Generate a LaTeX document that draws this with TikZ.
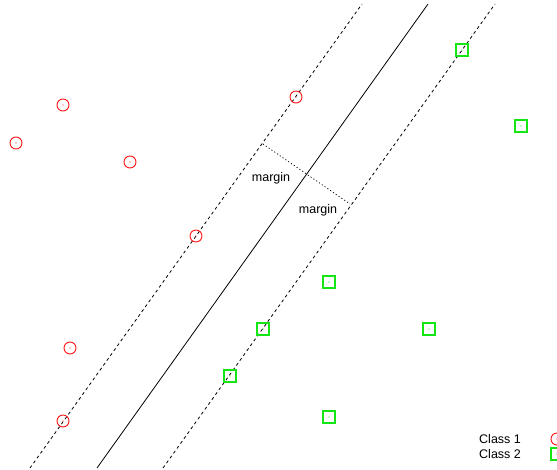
\documentclass[tikz,border=0pt]{standalone}
\usepackage{fontspec}
\setmainfont{Liberation Sans}
\usepackage{xcolor}
\usetikzlibrary{calc}
\definecolor{cone}{RGB}{255,20,20}
\definecolor{ctwo}{RGB}{20,230,20}
\tikzset{
  cls1/.style ={draw=cone, circle, minimum size=12pt, inner sep=0pt, line width=.9pt},
  cls2/.style ={draw=ctwo, minimum size=12pt, inner sep=0pt, line width=1.2pt},
  dotc/.style ={fill=#1, circle, inner sep=0pt, minimum size=1.4pt},
  hyp/.style  ={line width=.8pt},
  marg/.style ={line width=.8pt, dash pattern=on 3pt off 3pt},
  mline/.style={line width=.7pt, dash pattern=on 1.2pt off 2.2pt},
  lbl/.style  ={font=\fontsize{12.5}{14}\selectfont, inner sep=0pt},
}
\begin{document}
\begin{tikzpicture}[x=1pt,y=-1pt]
  \useasboundingbox (0,0) rectangle (557,469);
  % separating line and the two margins
  \coordinate (sb) at (97,468);  \coordinate (st) at (428,4);
  \coordinate (lb) at (30,468);  \coordinate (lt) at (362,4);
  \coordinate (rb) at (163,468); \coordinate (rt) at (495,4);
  \draw[hyp](sb)--(st);
  \draw[marg](lb)--(lt);
  \draw[marg](rb)--(rt);
  \coordinate (m1) at (263,144); \coordinate (m2) at (350,204);
  \draw[mline](m1)--(m2);
  \node[lbl](ma) at (271,178){margin};
  \node[lbl](mb) at (318,210){margin};
  % class 1
  \foreach \px/\py [count=\i] in {63/105,16/143,130/162,296/97,196/236,70/348,63/421}{
    \node[cls1](a\i) at (\px,\py){};
    \node[dotc=cone] at (a\i){};
  }
  % class 2
  \foreach \px/\py [count=\i] in {462/50,521/126,329/282,263/329,429/329,230/376,329/417}{
    \node[cls2](b\i) at (\px,\py){};
    \node[dotc=ctwo] at (b\i){};
  }
  % legend
  \node[lbl, anchor=west](k1) at (479,439){Class 1};
  \node[lbl, anchor=west](k2) at (479,454){Class 2};
  \node[cls1](k1m) at (557,439){};
  \node[dotc=cone] at (k1m){};
  \node[cls2](k2m) at (557,454){};
  \node[dotc=ctwo] at (k2m){};
\end{tikzpicture}
\end{document}
